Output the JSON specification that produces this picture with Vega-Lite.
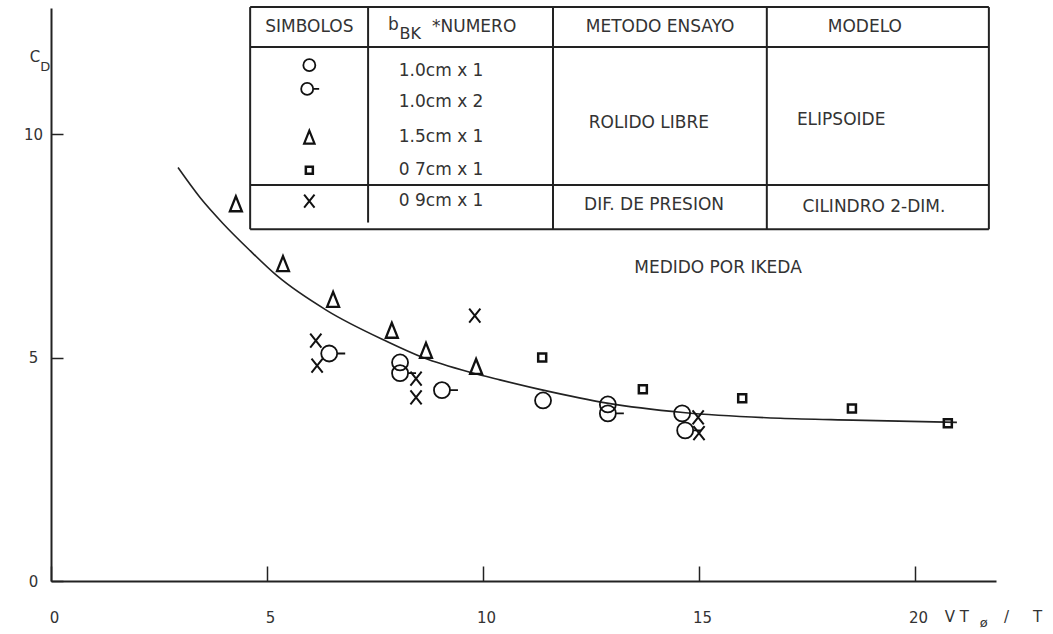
{
  "$schema": "https://vega.github.io/schema/vega-lite/v6.json",
  "autosize": "none",
  "width": 945,
  "height": 573,
  "padding": {"left": 51, "top": 8, "right": 57, "bottom": 53},
  "background": "white",
  "config": {"view": {"stroke": null}, "text": {"font": "DejaVu Sans", "color": "#333"}},
  "datasets": {
    "pts": [
      {"serie": "1.5cm x 1", "x": 4.28, "y": 8.44},
      {"serie": "1.5cm x 1", "x": 5.37, "y": 7.10},
      {"serie": "1.5cm x 1", "x": 6.53, "y": 6.30},
      {"serie": "1.5cm x 1", "x": 7.89, "y": 5.61},
      {"serie": "1.5cm x 1", "x": 8.68, "y": 5.16},
      {"serie": "1.5cm x 1", "x": 9.84, "y": 4.80},
      {"serie": "1.0cm x 1", "x": 8.08, "y": 4.89},
      {"serie": "1.0cm x 1", "x": 11.39, "y": 4.04},
      {"serie": "1.0cm x 1", "x": 12.89, "y": 3.95},
      {"serie": "1.0cm x 1", "x": 14.61, "y": 3.75},
      {"serie": "1.0cm x 2", "x": 6.44, "y": 5.09},
      {"serie": "1.0cm x 2", "x": 8.08, "y": 4.65},
      {"serie": "1.0cm x 2", "x": 9.05, "y": 4.27},
      {"serie": "1.0cm x 2", "x": 12.89, "y": 3.75},
      {"serie": "1.0cm x 2", "x": 14.68, "y": 3.37},
      {"serie": "0 7cm x 1", "x": 11.37, "y": 5.00},
      {"serie": "0 7cm x 1", "x": 13.70, "y": 4.29},
      {"serie": "0 7cm x 1", "x": 16.00, "y": 4.09},
      {"serie": "0 7cm x 1", "x": 18.54, "y": 3.86},
      {"serie": "0 7cm x 1", "x": 20.76, "y": 3.53},
      {"serie": "0 9cm x 1", "x": 6.13, "y": 5.38},
      {"serie": "0 9cm x 1", "x": 6.16, "y": 4.82},
      {"serie": "0 9cm x 1", "x": 8.45, "y": 4.53},
      {"serie": "0 9cm x 1", "x": 8.45, "y": 4.11},
      {"serie": "0 9cm x 1", "x": 9.81, "y": 5.94},
      {"serie": "0 9cm x 1", "x": 14.98, "y": 3.66},
      {"serie": "0 9cm x 1", "x": 15.00, "y": 3.31}
    ],
    "legendSymbols": [
      {"serie": "1.0cm x 1", "x": 5.98, "y": 11.54},
      {"serie": "1.0cm x 2", "x": 5.93, "y": 11.01},
      {"serie": "1.5cm x 1", "x": 5.98, "y": 9.93},
      {"serie": "0 7cm x 1", "x": 5.98, "y": 9.19},
      {"serie": "0 9cm x 1", "x": 5.98, "y": 8.50}
    ],
    "curve": [
      {"x": 2.94, "y": 9.25},
      {"x": 3.45, "y": 8.58},
      {"x": 3.98, "y": 8.00},
      {"x": 4.61, "y": 7.39},
      {"x": 5.23, "y": 6.83},
      {"x": 6.39, "y": 6.05},
      {"x": 7.73, "y": 5.38},
      {"x": 8.61, "y": 5.00},
      {"x": 9.70, "y": 4.67},
      {"x": 10.39, "y": 4.50},
      {"x": 11.39, "y": 4.27},
      {"x": 12.87, "y": 3.98},
      {"x": 14.63, "y": 3.77},
      {"x": 16.88, "y": 3.64},
      {"x": 18.56, "y": 3.60},
      {"x": 20.97, "y": 3.55}
    ],
    "tableLines": [
      {"x": 4.61, "x2": 21.71, "y": 12.84, "y2": 12.84},
      {"x": 4.61, "x2": 21.71, "y": 11.95, "y2": 11.95},
      {"x": 4.61, "x2": 21.71, "y": 8.86, "y2": 8.86},
      {"x": 4.61, "x2": 21.71, "y": 7.87, "y2": 7.87},
      {"x": 4.61, "x2": 4.61, "y": 12.84, "y2": 7.87},
      {"x": 7.34, "x2": 7.34, "y": 12.84, "y2": 8.02},
      {"x": 11.62, "x2": 11.62, "y": 12.84, "y2": 7.87},
      {"x": 16.57, "x2": 16.57, "y": 12.84, "y2": 7.87},
      {"x": 21.71, "x2": 21.71, "y": 12.84, "y2": 7.87}
    ],
    "centerText": [
      {"text": "SIMBOLOS", "x": 5.98, "y": 12.39},
      {"text": "METODO ENSAYO", "x": 14.10, "y": 12.39},
      {"text": "MODELO", "x": 18.84, "y": 12.39},
      {"text": "1.0cm x 1", "x": 9.03, "y": 11.41},
      {"text": "1.0cm x 2", "x": 9.03, "y": 10.72},
      {"text": "1.5cm x 1", "x": 9.03, "y": 9.93},
      {"text": "0 7cm x 1", "x": 9.03, "y": 9.19},
      {"text": "0 9cm x 1", "x": 9.03, "y": 8.50},
      {"text": "ROLIDO LIBRE", "x": 13.84, "y": 10.25},
      {"text": "ELIPSOIDE", "x": 18.29, "y": 10.31},
      {"text": "DIF. DE PRESION", "x": 13.96, "y": 8.41},
      {"text": "CILINDRO 2-DIM.", "x": 19.05, "y": 8.37},
      {"text": "MEDIDO POR IKEDA", "x": 15.44, "y": 7.00}
    ],
    "leftText": [
      {"text": "b", "x": 7.80, "y": 12.45},
      {"text": "*NUMERO", "x": 8.82, "y": 12.39}
    ],
    "axisText": [
      {"text": "C", "x": -0.49, "y": 11.72},
      {"text": "V  T", "x": 20.69, "y": -0.81},
      {"text": "/", "x": 22.06, "y": -0.81},
      {"text": "T", "x": 22.73, "y": -0.81}
    ],
    "subText": [
      {"text": "D", "x": -0.25, "y": 11.50},
      {"text": "ø", "x": 21.50, "y": -0.93}
    ],
    "bkText": [
      {"text": "BK", "x": 8.07, "y": 12.24}
    ]
  },
  "layer": [
    {
      "data": {"name": "tableLines"},
      "mark": {"type": "rule", "color": "#222", "strokeWidth": 2},
      "encoding": {
        "x": {"field": "x", "type": "quantitative", "scale": {"domain": [0, 21.875], "nice": false, "zero": false},
              "axis": {"values": [0, 5, 10, 15, 20], "title": null, "grid": false, "tickSize": -15, "tickWidth": 1.5, "tickColor": "#222",
                       "domainWidth": 2, "domainColor": "#222", "labelPadding": 51, "labelBaseline": "middle", "labelAlign": "center",
                       "labelOffset": 3, "labelFlush": false, "labelOverlap": false, "labelFont": "DejaVu Sans", "labelFontSize": 15, "labelColor": "#333"}},
        "x2": {"field": "x2"},
        "y": {"field": "y", "type": "quantitative", "scale": {"domain": [0, 12.82], "nice": false, "zero": false},
              "axis": {"values": [0, 5, 10], "title": null, "grid": false, "tickSize": -12, "tickWidth": 1.5, "tickColor": "#222",
                       "domainWidth": 2, "domainColor": "#222", "labelPadding": 30, "labelBaseline": "middle", "labelAlign": "center",
                       "labelFlush": false, "labelOverlap": false, "labelFont": "DejaVu Sans", "labelFontSize": 15, "labelColor": "#333"}},
        "y2": {"field": "y2"}
      }
    },
    {
      "data": {"name": "curve"},
      "mark": {"type": "line", "color": "#222", "strokeWidth": 1.6, "interpolate": "monotone"},
      "encoding": {
        "x": {"field": "x", "type": "quantitative"},
        "y": {"field": "y", "type": "quantitative"}
      }
    },
    {
      "data": {"name": "pts"},
      "transform": [{"filter": "datum.serie === '1.0cm x 1'"}],
      "mark": {"type": "point", "shape": "circle", "size": 256, "filled": false, "color": "#111", "strokeWidth": 1.8, "opacity": 1},
      "encoding": {"x": {"field": "x", "type": "quantitative"}, "y": {"field": "y", "type": "quantitative"}}
    },
    {
      "data": {"name": "pts"},
      "transform": [{"filter": "datum.serie === '1.0cm x 2'"}],
      "mark": {"type": "point", "shape": "M1,0A1,1,0,1,1,-1,0A1,1,0,1,1,1,0M1,0L2,0", "size": 256, "filled": false, "color": "#111", "strokeWidth": 1.8, "opacity": 1},
      "encoding": {"x": {"field": "x", "type": "quantitative"}, "y": {"field": "y", "type": "quantitative"}}
    },
    {
      "data": {"name": "pts"},
      "transform": [{"filter": "datum.serie === '1.5cm x 1'"}],
      "mark": {"type": "point", "shape": "M0,-1L-0.8,1L0.8,1Z", "size": 225, "filled": false, "color": "#111", "strokeWidth": 2.3, "opacity": 1},
      "encoding": {"x": {"field": "x", "type": "quantitative"}, "y": {"field": "y", "type": "quantitative"}}
    },
    {
      "data": {"name": "pts"},
      "transform": [{"filter": "datum.serie === '0 7cm x 1'"}],
      "mark": {"type": "point", "shape": "square", "size": 64, "filled": false, "color": "#111", "strokeWidth": 2.5, "opacity": 1},
      "encoding": {"x": {"field": "x", "type": "quantitative"}, "y": {"field": "y", "type": "quantitative"}}
    },
    {
      "data": {"name": "pts"},
      "transform": [{"filter": "datum.serie === '0 9cm x 1'"}],
      "mark": {"type": "point", "shape": "M-0.8,-1L0.8,1M0.8,-1L-0.8,1", "size": 196, "filled": false, "color": "#111", "strokeWidth": 2, "opacity": 1},
      "encoding": {"x": {"field": "x", "type": "quantitative"}, "y": {"field": "y", "type": "quantitative"}}
    },
    {
      "data": {"name": "legendSymbols"},
      "transform": [{"filter": "datum.serie === '1.0cm x 1'"}],
      "mark": {"type": "point", "shape": "circle", "size": 144, "filled": false, "color": "#111", "strokeWidth": 1.8, "opacity": 1},
      "encoding": {"x": {"field": "x", "type": "quantitative"}, "y": {"field": "y", "type": "quantitative"}}
    },
    {
      "data": {"name": "legendSymbols"},
      "transform": [{"filter": "datum.serie === '1.0cm x 2'"}],
      "mark": {"type": "point", "shape": "M1,0A1,1,0,1,1,-1,0A1,1,0,1,1,1,0M1,0L2,0", "size": 144, "filled": false, "color": "#111", "strokeWidth": 1.8, "opacity": 1},
      "encoding": {"x": {"field": "x", "type": "quantitative"}, "y": {"field": "y", "type": "quantitative"}}
    },
    {
      "data": {"name": "legendSymbols"},
      "transform": [{"filter": "datum.serie === '1.5cm x 1'"}],
      "mark": {"type": "point", "shape": "M0,-1L-0.8,1L0.8,1Z", "size": 169, "filled": false, "color": "#111", "strokeWidth": 2.2, "opacity": 1},
      "encoding": {"x": {"field": "x", "type": "quantitative"}, "y": {"field": "y", "type": "quantitative"}}
    },
    {
      "data": {"name": "legendSymbols"},
      "transform": [{"filter": "datum.serie === '0 7cm x 1'"}],
      "mark": {"type": "point", "shape": "square", "size": 49, "filled": false, "color": "#111", "strokeWidth": 2.5, "opacity": 1},
      "encoding": {"x": {"field": "x", "type": "quantitative"}, "y": {"field": "y", "type": "quantitative"}}
    },
    {
      "data": {"name": "legendSymbols"},
      "transform": [{"filter": "datum.serie === '0 9cm x 1'"}],
      "mark": {"type": "point", "shape": "M-0.8,-1L0.8,1M0.8,-1L-0.8,1", "size": 169, "filled": false, "color": "#111", "strokeWidth": 2, "opacity": 1},
      "encoding": {"x": {"field": "x", "type": "quantitative"}, "y": {"field": "y", "type": "quantitative"}}
    },
    {
      "data": {"name": "centerText"},
      "mark": {"type": "text", "fontSize": 17, "align": "center", "baseline": "middle"},
      "encoding": {
        "x": {"field": "x", "type": "quantitative"},
        "y": {"field": "y", "type": "quantitative"},
        "text": {"field": "text"}
      }
    },
    {
      "data": {"name": "leftText"},
      "mark": {"type": "text", "fontSize": 17, "align": "left", "baseline": "middle"},
      "encoding": {
        "x": {"field": "x", "type": "quantitative"},
        "y": {"field": "y", "type": "quantitative"},
        "text": {"field": "text"}
      }
    },
    {
      "data": {"name": "bkText"},
      "mark": {"type": "text", "fontSize": 16, "align": "left", "baseline": "middle"},
      "encoding": {
        "x": {"field": "x", "type": "quantitative"},
        "y": {"field": "y", "type": "quantitative"},
        "text": {"field": "text"}
      }
    },
    {
      "data": {"name": "axisText"},
      "mark": {"type": "text", "fontSize": 15, "align": "left", "baseline": "middle"},
      "encoding": {
        "x": {"field": "x", "type": "quantitative"},
        "y": {"field": "y", "type": "quantitative"},
        "text": {"field": "text"}
      }
    },
    {
      "data": {"name": "subText"},
      "mark": {"type": "text", "fontSize": 13, "align": "left", "baseline": "middle"},
      "encoding": {
        "x": {"field": "x", "type": "quantitative"},
        "y": {"field": "y", "type": "quantitative"},
        "text": {"field": "text"}
      }
    }
  ]
}
